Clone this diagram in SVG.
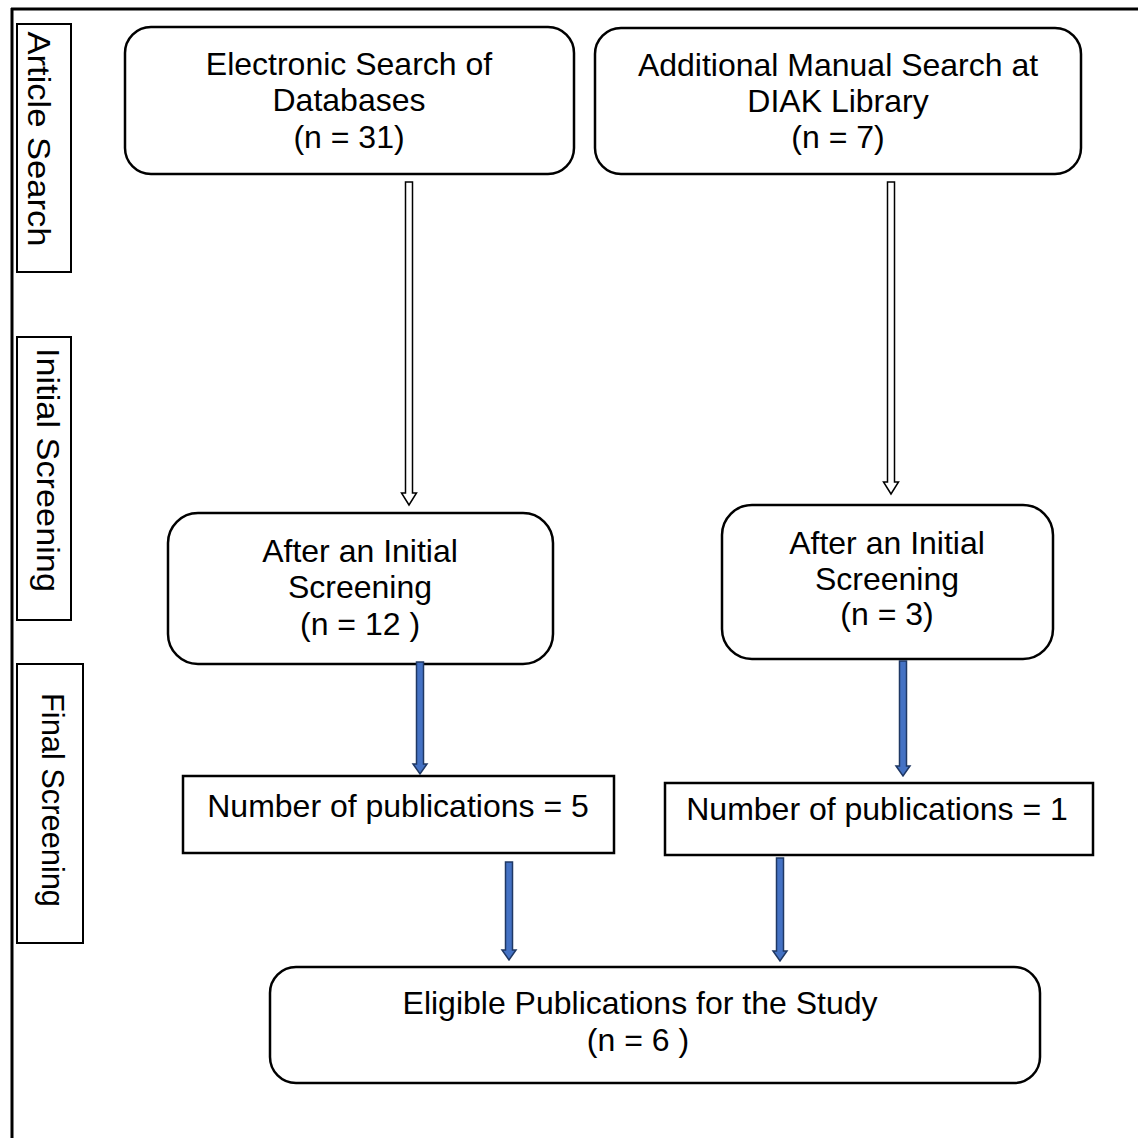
<svg xmlns="http://www.w3.org/2000/svg" width="1138" height="1138" viewBox="0 0 1138 1138">
<style>
.box{fill:#fff;stroke:#000;stroke-width:2.5}
.side{fill:#fff;stroke:#000;stroke-width:2}
.t{font-family:"Liberation Sans",Arial,sans-serif;font-size:32px;fill:#000;text-anchor:middle}
.s{font-family:"Liberation Sans",Arial,sans-serif;font-size:32px;fill:#000;text-anchor:middle}
.hollow{fill:#fff;stroke:#000;stroke-width:1.5;stroke-linejoin:miter}
.blue{fill:#4472C4;stroke:#1F3864;stroke-width:1.5;stroke-linejoin:miter}
</style>
<rect width="1138" height="1138" fill="#fff"/>
<g id="frame">
<line x1="11" y1="9" x2="1138" y2="9" stroke="#000" stroke-width="3"/>
<line x1="12" y1="8" x2="12" y2="1138" stroke="#000" stroke-width="3"/>
</g>
<g id="label-article-search">
<rect class="side" x="17" y="24" width="54" height="248"/>
<text class="s" transform="translate(28,139) rotate(90)" textLength="215" lengthAdjust="spacingAndGlyphs">Article Search</text>
</g>
<g id="label-initial-screening">
<rect class="side" x="17" y="337" width="54" height="283"/>
<text class="s" transform="translate(37,470) rotate(90)" textLength="244" lengthAdjust="spacingAndGlyphs">Initial Screening</text>
</g>
<g id="label-final-screening">
<rect class="side" x="17" y="664" width="66" height="279"/>
<text class="s" transform="translate(42,800) rotate(90)" textLength="214" lengthAdjust="spacingAndGlyphs">Final Screening</text>
</g>
<g id="node-electronic">
<rect class="box" x="125" y="27" width="449" height="147" rx="26"/>
<text class="t" x="349" y="75">Electronic Search of</text>
<text class="t" x="349" y="111">Databases</text>
<text class="t" x="349" y="148">(n = 31)</text>
</g>
<g id="node-manual">
<rect class="box" x="595" y="28" width="486" height="146" rx="26"/>
<text class="t" x="838" y="76">Additional Manual Search at</text>
<text class="t" x="838" y="112">DIAK Library</text>
<text class="t" x="838" y="148">(n = 7)</text>
</g>
<g id="node-initial-left">
<rect class="box" x="168" y="513" width="385" height="151" rx="30"/>
<text class="t" x="360" y="562">After an Initial</text>
<text class="t" x="360" y="598">Screening</text>
<text class="t" x="360" y="635">(n = 12 )</text>
</g>
<g id="node-initial-right">
<rect class="box" x="722" y="505" width="331" height="154" rx="30"/>
<text class="t" x="887" y="554">After an Initial</text>
<text class="t" x="887" y="590">Screening</text>
<text class="t" x="887" y="625">(n = 3)</text>
</g>
<g id="node-final-left">
<rect class="box" x="183" y="776" width="431" height="77"/>
<text class="t" x="398" y="817">Number of publications = 5</text>
</g>
<g id="node-final-right">
<rect class="box" x="665" y="783" width="428" height="72"/>
<text class="t" x="877" y="820">Number of publications = 1</text>
</g>
<g id="node-eligible">
<rect class="box" x="270" y="967" width="770" height="116" rx="26"/>
<text class="t" x="640" y="1014">Eligible Publications for the Study</text>
<text class="t" x="638" y="1051">(n = 6 )</text>
</g>
<g id="connectors">
<polygon class="hollow" points="405.5,182 412.5,182 412.5,493 416.5,493 409,505 401.5,493 405.5,493"/>
<polygon class="hollow" points="887.5,182 894.5,182 894.5,482 898.5,482 891,494 883.5,482 887.5,482"/>
<polygon class="blue" points="416.5,662 423.5,662 423.5,764 427,764 420,774 413,764 416.5,764"/>
<polygon class="blue" points="899.5,661 906.5,661 906.5,766 910,766 903,776 896,766 899.5,766"/>
<polygon class="blue" points="505.5,862 512.5,862 512.5,950 516,950 509,960 502,950 505.5,950"/>
<polygon class="blue" points="776.5,858 783.5,858 783.5,951 787,951 780,961 773,951 776.5,951"/>
</g>
</svg>
